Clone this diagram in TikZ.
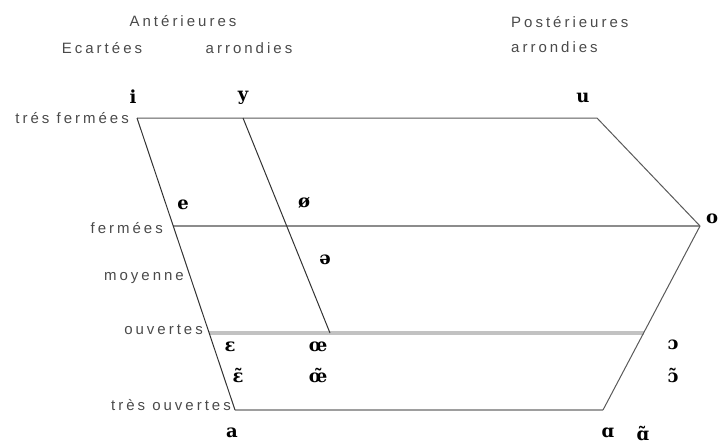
\documentclass[tikz,border=0pt]{standalone}
\usepackage{fontspec}
\setmainfont{Liberation Sans}
\newfontfamily\labfont[LetterSpace=20]{Liberation Sans}
\newfontfamily\vowfont{DejaVu Serif}
\definecolor{labgray}{HTML}{4A4A4A}
\tikzset{
  lab/.style={font=\labfont\fontsize{15}{16}\selectfont, text=labgray, inner sep=0pt},
  vow/.style={font=\vowfont\bfseries\fontsize{18}{19}\selectfont, text=black, inner sep=0pt},
  thinline/.style={draw=black!65, line width=1pt},
  darkline/.style={draw=black!80, line width=1pt},
}
\begin{document}
\begin{tikzpicture}[x=1pt,y=-1pt]
\useasboundingbox (0,0) rectangle (718,444);
% corners
\coordinate (TL) at (137,118);
\coordinate (TR) at (597,118);
\coordinate (O)  at (700,226);
\coordinate (BR) at (603,410);
\coordinate (BL) at (235,410);
\coordinate (FL) at (173,226);
\coordinate (OL) at (209,333);
\coordinate (OR) at (644,333);
\coordinate (YT) at (243,118);
\coordinate (YB) at (330,333);
% lines
\draw[draw=black!45, line width=2pt] (FL) -- (O);
\draw[draw=black!24, line width=4pt] (OL) -- (OR);
\draw[draw=black!38, line width=2pt] (BL) -- (BR);
\draw[thinline] (TL) -- (TR) -- (O) -- (BR);
\draw[darkline] (TL) -- (BL);
\draw[darkline] (YT) -- (YB);
% header labels
\node[lab] (ant) at (183,21) {Antérieures};
\node[lab] (eca) at (102,48) {Ecartées};
\node[lab] (arr1) at (249,48) {arrondies};
\node[lab, anchor=west] (post) at (511,22) {Postérieures};
\node[lab, anchor=west] (arr2) at (511,47) {arrondies};
% row labels
\node[lab, anchor=east] (tf) at (129,118) {trés fermées};
\node[lab, anchor=east] (fe) at (163,228) {fermées};
\node[lab, anchor=east] (mo) at (184,278) {moyenne};
\node[lab, anchor=east] (ou) at (203,330) {ouvertes};
\node[lab, anchor=east] (to) at (231,405) {très ouvertes};
% vowels
\node[vow] (vi) at (133,97) {i};
\node[vow] (vy) at (243,98) {y};
\node[vow] (vu) at (583,98) {u};
\node[vow] (ve) at (183,205) {e};
\node[vow] (voe) at (304,203) {ø};
\node[vow] (vschwa) at (325,260) {ə};
\node[vow] (vo) at (712,219) {o};
\node[vow] (veps) at (230,347) {ɛ};
\node[vow] (vepsn) at (238,375) {ɛ̃};
\node[vow] (voel) at (318,347) {œ};
\node[vow] (voen) at (318,375) {œ̃};
\node[vow] (vopen) at (673,345) {ɔ};
\node[vow] (vopenn) at (673,375) {ɔ̃};
\node[vow] (va) at (232,433) {a};
\node[vow] (valpha) at (608,433) {ɑ};
\node[vow] (valphan) at (643,433) {ɑ̃};
\end{tikzpicture}
\end{document}
